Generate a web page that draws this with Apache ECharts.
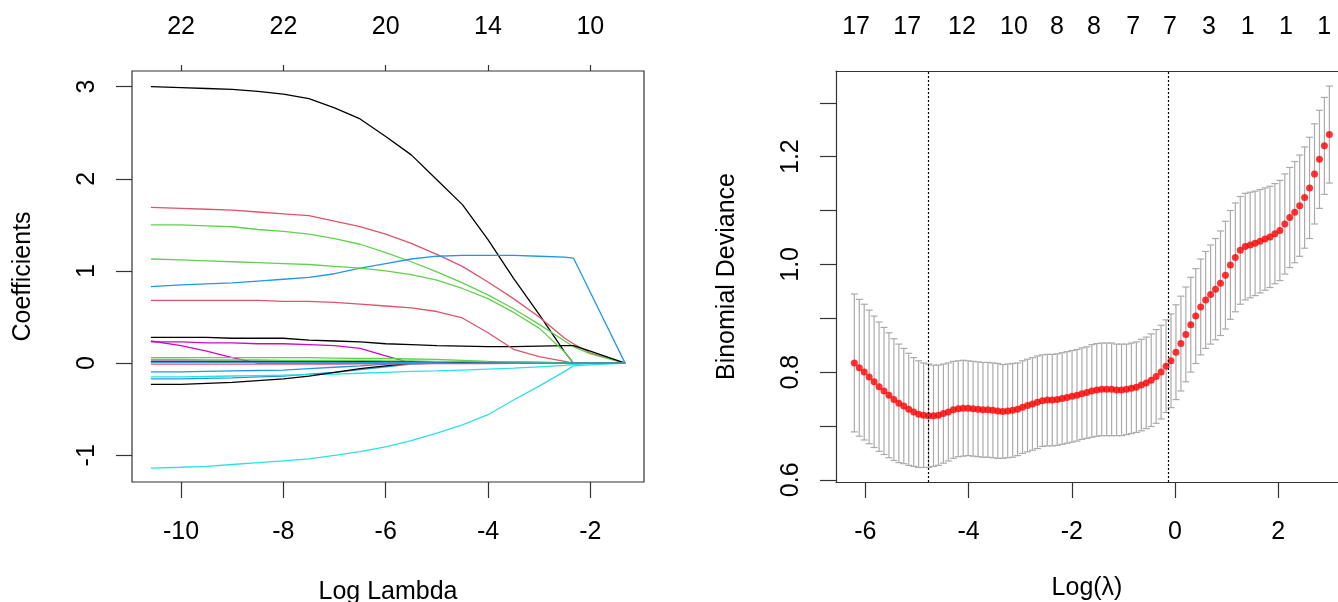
<!DOCTYPE html>
<html>
<head>
<meta charset="utf-8">
<script src="https://cdn.jsdelivr.net/npm/echarts@6/dist/echarts.min.js"></script>
<style>
  html, body { margin: 0; padding: 0; background: #fff; }
  #chart { width: 1338px; height: 602px; }
</style>
</head>
<body>
<div id="chart"></div>
<script>
// ---- left panel: coefficient paths (log lambda knots) ----
var lamKnots = [-10.59, -10, -9.5, -9, -8.5, -8, -7.5, -7, -6.5, -6, -5.5, -5, -4.5, -4, -3.5, -3, -2.5, -2.33, -2, -1.32];
var p01 = [3.00, 2.99, 2.98, 2.97, 2.95, 2.92, 2.87, 2.77, 2.65, 2.46, 2.26, 1.99, 1.72, 1.34, 0.92, 0.53, 0.12, 0, 0, 0];
var p02 = [1.69, 1.68, 1.67, 1.66, 1.64, 1.62, 1.60, 1.54, 1.48, 1.40, 1.30, 1.18, 1.05, 0.88, 0.70, 0.50, 0.27, 0.21, 0.11, 0];
var p03 = [1.50, 1.50, 1.49, 1.48, 1.45, 1.43, 1.40, 1.35, 1.29, 1.20, 1.10, 0.99, 0.87, 0.74, 0.59, 0.42, 0.24, 0.18, 0.10, 0];
var p04 = [0.83, 0.85, 0.86, 0.87, 0.89, 0.91, 0.93, 0.97, 1.03, 1.08, 1.13, 1.16, 1.17, 1.17, 1.17, 1.16, 1.15, 1.14, 0.77, 0];
var p05 = [-1.14, -1.13, -1.12, -1.10, -1.08, -1.06, -1.04, -1.00, -0.96, -0.91, -0.84, -0.76, -0.67, -0.56, -0.40, -0.25, -0.09, -0.03, -0.02, 0];
var p06 = [0.23, 0.23, 0.22, 0.22, 0.21, 0.21, 0.20, 0.19, 0.16, 0.08, 0, 0, 0, 0, 0, 0, 0, 0, 0, 0];
var p07 = [0.28, 0.28, 0.28, 0.27, 0.27, 0.27, 0.25, 0.24, 0.23, 0.21, 0.20, 0.19, 0.185, 0.18, 0.18, 0.185, 0.19, 0.19, 0.13, 0];
var p08 = [0.68, 0.68, 0.68, 0.68, 0.68, 0.67, 0.67, 0.66, 0.64, 0.62, 0.60, 0.56, 0.49, 0.33, 0.15, 0.07, 0.02, 0, 0, 0];
var p09 = [1.13, 1.12, 1.11, 1.10, 1.09, 1.08, 1.07, 1.05, 1.03, 1.00, 0.96, 0.90, 0.81, 0.70, 0.55, 0.38, 0.12, 0, 0, 0];
var p10 = [-0.17, -0.17, -0.165, -0.16, -0.15, -0.14, -0.12, -0.10, -0.07, -0.04, -0.01, 0, 0, 0, 0, 0, 0, 0, 0, 0];
var p11 = [-0.15, -0.15, -0.145, -0.14, -0.135, -0.13, -0.125, -0.12, -0.11, -0.10, -0.09, -0.085, -0.075, -0.065, -0.055, -0.04, -0.025, -0.015, -0.005, 0];
var p12 = [0.24, 0.19, 0.13, 0.06, 0, 0, 0, 0, 0, 0, 0, 0, 0, 0, 0, 0, 0, 0, 0, 0];
var p13 = [-0.23, -0.23, -0.22, -0.21, -0.19, -0.17, -0.14, -0.10, -0.06, -0.03, 0, 0, 0, 0, 0, 0, 0, 0, 0, 0];
var p14 = [0.01, 0.01, 0.01, 0.01, 0.01, 0.01, 0.01, 0.01, 0.01, 0.01, 0.008, 0.007, 0.006, 0.005, 0, 0, 0, 0, 0, 0];
var p15 = [0.06, 0.06, 0.06, 0.06, 0.06, 0.06, 0.06, 0.055, 0.05, 0.05, 0.045, 0.04, 0.03, 0.02, 0.015, 0.01, 0.005, 0, 0, 0];
var p16 = [-0.095, -0.095, -0.09, -0.085, -0.08, -0.075, -0.06, -0.045, -0.03, -0.01, 0, 0, 0, 0, 0, 0, 0, 0, 0, 0];
var p17 = [0.015, 0.015, 0.015, 0.015, 0.014, 0.013, 0.012, 0.011, 0.01, 0.008, 0.006, 0.004, 0, 0, 0, 0, 0, 0, 0, 0];
var p18 = [0.02, 0.02, 0.02, 0.02, 0.02, 0.02, 0.018, 0.016, 0.012, 0.008, 0.004, 0, 0, 0, 0, 0, 0, 0, 0, 0];
var p19 = [0.02, 0.02, 0.02, 0.02, 0.02, 0.02, 0.02, 0.02, 0.018, 0.017, 0.016, 0.015, 0.012, 0.01, 0, 0, 0, 0, 0, 0];
var p20 = [-0.01, -0.01, -0.01, -0.01, -0.01, -0.01, -0.01, -0.01, -0.009, -0.008, -0.007, -0.006, -0.005, -0.004, -0.003, -0.002, 0, 0, 0, 0];
var p21 = [0.04, 0.04, 0.035, 0.035, 0.035, 0.03, 0.03, 0.03, 0.03, 0.025, 0.025, 0.02, 0.02, 0.015, 0.012, 0.008, 0.003, 0, 0, 0];
var p22 = [0.01, 0.01, 0.01, 0.01, 0.01, 0.01, 0.01, 0.01, 0.008, 0.006, 0.004, 0.002, 0, 0, 0, 0, 0, 0, 0, 0];
var coefPaths = [p01, p02, p03, p04, p05, p06, p07, p08, p09, p10, p11, p12, p13, p14, p15, p16, p17, p18, p19, p20, p21, p22];
var rPalette = ['#000000', '#DF536B', '#61D04F', '#2297E6', '#28E2E5', '#CD0BBC'];

var leftBottomTicks = [-10, -8, -6, -4, -2];
var leftTopLabels = ['22', '22', '20', '14', '10'];
var leftYTicks = [-1, 0, 1, 2, 3];

// ---- right panel: cross-validated deviance ----
var logLamStart = -6.215, logLamStep = 0.0959;
var cvMean = [0.817, 0.808, 0.800, 0.791, 0.782, 0.773, 0.765, 0.757, 0.749, 0.742,
  0.737, 0.731, 0.726, 0.722, 0.720, 0.719, 0.719, 0.720, 0.723, 0.726,
  0.730, 0.732, 0.733, 0.733, 0.732, 0.731, 0.730, 0.730, 0.729, 0.728,
  0.727, 0.728, 0.729, 0.731, 0.735, 0.738, 0.741, 0.744, 0.747, 0.748,
  0.748, 0.749, 0.751, 0.753, 0.755, 0.757, 0.760, 0.762, 0.765, 0.767,
  0.768, 0.768, 0.768, 0.767, 0.767, 0.768, 0.770, 0.772, 0.776, 0.780,
  0.785, 0.792, 0.800, 0.811, 0.821, 0.837, 0.853, 0.870, 0.888, 0.904,
  0.921, 0.934, 0.944, 0.954, 0.965, 0.980, 0.999, 1.013, 1.026, 1.033,
  1.036, 1.039, 1.043, 1.047, 1.051, 1.057, 1.063, 1.075, 1.087, 1.097,
  1.109, 1.124, 1.142, 1.168, 1.195, 1.220, 1.241];
var cvSe = [0.128, 0.127, 0.126, 0.124, 0.122, 0.120, 0.118, 0.116, 0.113, 0.110,
  0.107, 0.104, 0.101, 0.099, 0.097, 0.096, 0.094, 0.093, 0.092, 0.091,
  0.090, 0.089, 0.089, 0.088, 0.088, 0.088, 0.088, 0.088, 0.088, 0.088,
  0.087, 0.087, 0.087, 0.086, 0.086, 0.086, 0.086, 0.086, 0.085, 0.085,
  0.085, 0.085, 0.085, 0.085, 0.085, 0.085, 0.085, 0.085, 0.086, 0.086,
  0.086, 0.086, 0.086, 0.085, 0.085, 0.084, 0.084, 0.084, 0.085, 0.085,
  0.086, 0.087, 0.087, 0.086, 0.087, 0.088, 0.088, 0.088, 0.088, 0.088,
  0.089, 0.090, 0.092, 0.094, 0.097, 0.100, 0.101, 0.101, 0.100, 0.099,
  0.098, 0.097, 0.096, 0.095, 0.094, 0.093, 0.093, 0.093, 0.093, 0.094,
  0.094, 0.094, 0.094, 0.093, 0.091, 0.090, 0.090];
var lambdaMin = -4.79, lambda1se = -0.14;
var rightTopPos = [-6.18, -5.19, -4.13, -3.12, -2.29, -1.57, -0.81, -0.10, 0.66, 1.41, 2.15, 2.89];
var rightTopLabels = ['17', '17', '12', '10', '8', '8', '7', '7', '3', '1', '1', '1'];
var rightXTicks = [-6, -4, -2, 0, 2];
var rightYTicks = [0.6, 0.7, 0.8, 0.9, 1.0, 1.1, 1.2, 1.3];
var rightYLabels = [0.6, 0.8, 1.0, 1.2];

var FONT = 'Liberation Sans, Arial, sans-serif';
var txt = { color: '#000', fontSize: 25, fontFamily: FONT };
var boxLine = { color: '#333', width: 1.2 };

function baseAxis(extra) {
    var a = {
        type: 'value',
        axisLine: { show: false, onZero: false },
        splitLine: { show: false },
        axisTick: { show: true, inside: false, length: 16, lineStyle: { color: '#333', width: 1.2 } },
        axisLabel: Object.assign({ show: true }, txt),
        nameTextStyle: txt
    };
    for (var k in extra) {
        if (typeof extra[k] === 'object' && a[k] && !Array.isArray(extra[k])) {
            a[k] = Object.assign({}, a[k], extra[k]);
        } else {
            a[k] = extra[k];
        }
    }
    return a;
}

var series = [];
coefPaths.forEach(function (p, i) {
    series.push({
        type: 'line',
        xAxisIndex: 0, yAxisIndex: 0,
        data: lamKnots.map(function (x, j) { return [x, p[j]]; }),
        showSymbol: false,
        lineStyle: { color: rPalette[i % 6], width: 1.3 },
        z: 2
    });
});

var cvData = cvMean.map(function (m, i) {
    var x = logLamStart + i * logLamStep;
    return [x, m - cvSe[i], m + cvSe[i], m];
});

series.push({
    type: 'custom',
    xAxisIndex: 2, yAxisIndex: 1,
    data: cvData,
    encode: { x: 0, y: [1, 2] },
    renderItem: function (params, api) {
        var x = api.value(0);
        var lo = api.coord([x, api.value(1)]);
        var hi = api.coord([x, api.value(2)]);
        var w = 3.5;
        var st = { stroke: '#ababab', lineWidth: 1.2 };
        return {
            type: 'group',
            children: [
                { type: 'line', shape: { x1: lo[0], y1: lo[1], x2: hi[0], y2: hi[1] }, style: st },
                { type: 'line', shape: { x1: lo[0] - w, y1: lo[1], x2: lo[0] + w, y2: lo[1] }, style: st },
                { type: 'line', shape: { x1: hi[0] - w, y1: hi[1], x2: hi[0] + w, y2: hi[1] }, style: st }
            ]
        };
    },
    markLine: {
        silent: true,
        symbol: ['none', 'none'],
        label: { show: false },
        lineStyle: { color: '#000', type: [2, 2], width: 1.2 },
        data: [{ xAxis: lambdaMin }, { xAxis: lambda1se }]
    },
    z: 2
});

series.push({
    type: 'scatter',
    xAxisIndex: 2, yAxisIndex: 1,
    data: cvData.map(function (d) { return [d[0], d[3]]; }),
    symbol: 'circle',
    symbolSize: 7,
    itemStyle: { color: '#ff0000' },
    z: 3
});

var option = {
    animation: false,
    backgroundColor: '#fff',
    grid: [
        { left: 132, top: 71, width: 512, height: 411, show: true, borderColor: '#333', borderWidth: 1.2,
          backgroundColor: 'transparent', outerBoundsMode: 'none' },
        // right box runs past the page edge, so only three sides show
        { left: 836, top: 71, width: 502, height: 411, show: false, outerBoundsMode: 'none' }
    ],
    xAxis: [
        baseAxis({
            gridIndex: 0, position: 'bottom', min: -10.96, max: -0.95,
            axisTick: { customValues: leftBottomTicks },
            axisLabel: { customValues: leftBottomTicks, margin: 38 },
            name: 'Log Lambda', nameLocation: 'middle', nameGap: 98
        }),
        baseAxis({
            gridIndex: 0, position: 'top', min: -10.96, max: -0.95,
            axisTick: { customValues: leftBottomTicks, length: 6 },
            axisLabel: {
                customValues: leftBottomTicks, margin: 31,
                formatter: function (v) { return leftTopLabels[leftBottomTicks.indexOf(v)]; }
            }
        }),
        baseAxis({
            gridIndex: 1, position: 'bottom', min: -6.57, max: 3.159,
            axisLine: { show: true, onZero: false, lineStyle: boxLine },
            axisTick: { customValues: rightXTicks },
            axisLabel: { customValues: rightXTicks, margin: 38 },
            name: 'Log(λ)', nameLocation: 'middle', nameGap: 94
        }),
        baseAxis({
            gridIndex: 1, position: 'top', min: -6.57, max: 3.159,
            axisLine: { show: true, onZero: false, lineStyle: boxLine },
            axisTick: { show: false },
            axisLabel: {
                customValues: rightTopPos, margin: 31,
                formatter: function (v) {
                    var best = 0;
                    rightTopPos.forEach(function (p, i) {
                        if (Math.abs(p - v) < Math.abs(rightTopPos[best] - v)) best = i;
                    });
                    return rightTopLabels[best];
                }
            }
        })
    ],
    yAxis: [
        baseAxis({
            gridIndex: 0, position: 'left', min: -1.29, max: 3.17,
            axisTick: { customValues: leftYTicks },
            axisLabel: { customValues: leftYTicks, rotate: 90, margin: 32 },
            name: 'Coefficients', nameLocation: 'middle', nameGap: 96, nameRotate: 90
        }),
        baseAxis({
            gridIndex: 1, position: 'left', min: 0.596, max: 1.359,
            axisLine: { show: true, onZero: false, lineStyle: boxLine },
            axisTick: { customValues: rightYTicks },
            axisLabel: {
                customValues: rightYLabels, rotate: 90, margin: 32,
                formatter: function (v) { return v.toFixed(1); }
            },
            name: 'Binomial Deviance', nameLocation: 'middle', nameGap: 96, nameRotate: 90
        })
    ],
    series: series
};

var chart = echarts.init(document.getElementById('chart'), null, { renderer: 'canvas' });
chart.setOption(option);
</script>
</body>
</html>
